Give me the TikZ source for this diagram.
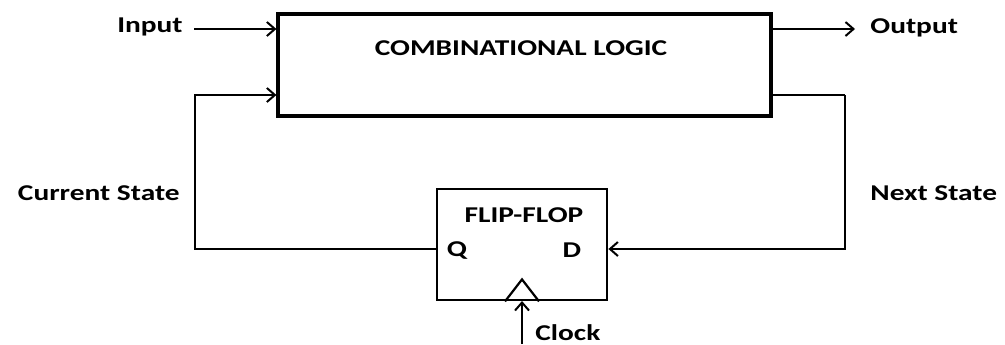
\documentclass[tikz,border=0pt]{standalone}
\usepackage{fontspec}
\setmainfont{Carlito}[FakeStretch=1.3]
\usepackage{tikz}
\usetikzlibrary{arrows.meta,positioning,calc}
\tikzset{
  logicbox/.style={
    draw=black,
    line width=1.6pt,
    inner sep=0pt,
    minimum width=246.5pt,
    minimum height=51pt
  },
  ffbox/.style={
    draw=black,
    line width=1.4pt,
    inner sep=0pt,
    minimum width=85pt,
    minimum height=55.5pt
  },
  lbl/.style={
    inner sep=0pt,
    font=\fontsize{11.3}{13}\selectfont\bfseries
  },
  wire/.style={
    line width=1.1pt,
    draw=black
  },
  arrow/.style={
    -{Straight Barb[length=4pt,width=7pt]},
    line width=1pt,
    draw=black
  }
}

\begin{document}
\begin{tikzpicture}[x=0.5pt,y=-0.5pt]
\useasboundingbox (0,0) rectangle (1005,344);
% blocks
\node[logicbox] (comb) at (524.5,65) {};
\node[lbl] (combtxt) at (521,48) {COMBINATIONAL LOGIC};
\node[ffbox] (ff) at (522,244.5) {};
\node[lbl] (fftxt) at (524,215) {FLIP-FLOP};
\node[lbl] (q) at (457,250) {Q};
\node[lbl] (d) at (572,250) {D};
% labels
\node[lbl, anchor=east] (input) at (183,27) {Input};
\node[lbl, anchor=west] (output) at (870,28) {Output};
\node[lbl, anchor=east] (cur) at (180,193) {Current State};
\node[lbl, anchor=west] (nxt) at (870,193) {Next State};
\node[lbl, anchor=west] (clk) at (535,333) {Clock};
% wire corners
\coordinate (inA) at (194,29);
\coordinate (outB) at (855,29);
\coordinate (lc) at (195,95);
\coordinate (rc) at (845,95);
\coordinate (clkA) at (522,344);
% connections
\draw[arrow] (inA) -- (comb.west |- inA);
\draw[arrow] (comb.east |- outB) -- (outB);
\draw[arrow] (ff.west |- 0,249) -| (lc) -- (comb.west |- lc);
\draw[wire] (comb.east |- rc) -- (rc);
\draw[arrow] (rc) |- (ff.east |- 0,249);
\draw[arrow] (clkA) -- (ff.south |- 0,301);
% clock marker
\draw[wire] ($(ff.south)+(-17,0)$) -- ++(17,-22) -- ++(17,22);
\end{tikzpicture}
\end{document}
